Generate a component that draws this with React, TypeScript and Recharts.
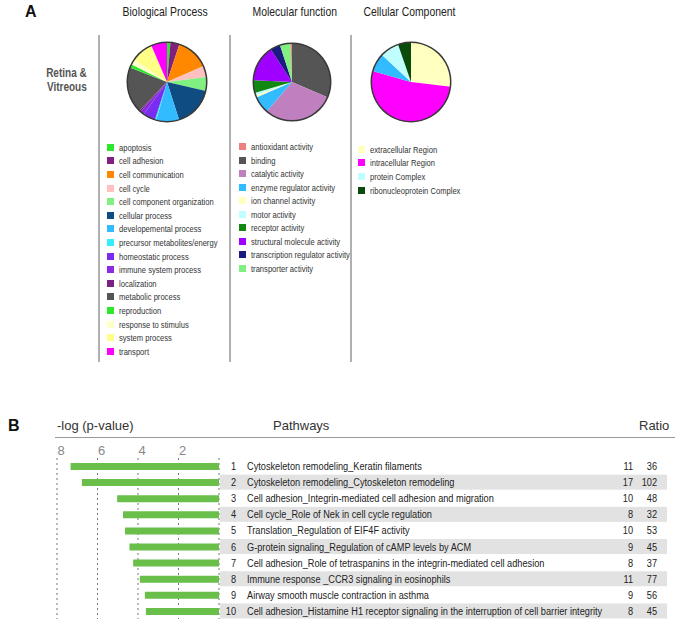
import React from 'react';
import { PieChart, Pie, Cell, BarChart, Bar, XAxis, YAxis, CartesianGrid } from 'recharts';

const SANS = '"Liberation Sans", Arial, sans-serif';
const SQUEEZE = 0.8; // Arial Narrow look-alike

// --- Panel A: GO categories (slice sizes, pie order = legend order)
const bioNames = [
  'apoptosis', 'cell adhesion', 'cell communication', 'cell cycle', 'cell component organization',
  'cellular process', 'developemental process', 'precursor metabolites/energy', 'homeostatic process',
  'immune system process', 'localization', 'metabolic process', 'reproduction', 'response to stimulus',
  'system process', 'transport',
];
const bioValues = [5, 13, 48, 16, 20, 59, 33, 2, 18, 6, 2, 67, 5, 8, 32, 23];
const bioColors = [
  '#2ee82e', '#80207f', '#ff8800', '#ffc0c0', '#80f080', '#0f4c81', '#33bbff', '#33eeff', '#7a2df0',
  '#8a2be2', '#7a2080', '#555555', '#2ee82e', '#ffffc8', '#ffff88', '#ff00ff',
];

// molecular function: legend order
const molLegend = [
  'antioxidant activity', 'binding', 'catalytic activity', 'enzyme regulator activity', 'ion channel activity',
  'motor activity', 'receptor activity', 'structural molecule activity', 'transcription regulator activity',
  'transporter activity',
];
const molLegendColors = [
  '#f08080', '#555555', '#c080c0', '#33bbff', '#ffffc0', '#c0ffff', '#118811', '#a000ff', '#1a1a80', '#80f080',
];
// pie order (clockwise from top)
const molNames = [
  'binding', 'catalytic activity', 'enzyme regulator activity', 'ion channel activity', 'motor activity',
  'receptor activity', 'structural molecule activity', 'transcription regulator activity',
  'transporter activity', 'antioxidant activity',
];
const molValues = [113, 107, 26, 3, 4, 19, 54, 15, 16, 2];

const cellLegend = ['extracellular Region', 'intracellular Region', 'protein Complex', 'ribonucleoprotein Complex'];
const cellLegendColors = ['#ffffc0', '#ff00ff', '#c0ffff', '#0a4a0a'];
const cellNames = ['extracellular Region', 'intracellular Region', 'other', 'protein Complex', 'ribonucleoprotein Complex'];
const cellValues = [97, 189, 27, 28, 19];
const cellColors = ['#ffffc0', '#ff00ff', '#33bbff', '#c0ffff', '#0a4a0a'];

// --- Panel B: pathways
const pathwayNames = [
  'Cytoskeleton remodeling_Keratin filaments',
  'Cytoskeleton remodeling_Cytoskeleton remodeling',
  'Cell adhesion_Integrin-mediated cell adhesion and migration',
  'Cell cycle_Role of Nek in cell cycle regulation',
  'Translation_Regulation of EIF4F activity',
  'G-protein signaling_Regulation of cAMP levels by ACM',
  'Cell adhesion_Role of tetraspanins in the integrin-mediated cell adhesion',
  'Immune response _CCR3 signaling in eosinophils',
  'Airway smooth muscle contraction in asthma',
  'Cell adhesion_Histamine H1 receptor signaling in the interruption of cell barrier integrity',
];
const logP = [7.33, 6.77, 5.03, 4.74, 4.64, 4.42, 4.24, 3.91, 3.66, 3.61];
const ratioHits = [11, 17, 10, 8, 10, 9, 8, 11, 9, 8];
const ratioTotal = [36, 102, 48, 32, 53, 45, 37, 77, 56, 45];
const pTicks = [0, 2, 4, 6, 8];

const bioData = bioNames.map((name, i) => ({ name, value: bioValues[i] }));
const molData = molNames.map((name, i) => ({ name, value: molValues[i] }));
const cellData = cellNames.map((name, i) => ({ name, value: cellValues[i] }));
const ring = [{ name: 'ring', value: 1 }];
const molColorOf = (n: string) => molLegendColors[molLegend.indexOf(n)];

const pathwayData = pathwayNames.map((name, i) => ({
  id: i + 1,
  name,
  p: logP[i],
  hits: ratioHits[i],
  total: ratioTotal[i],
}));

function NarrowText({ x, y, anchor = 'start', children }: { x: number; y: number; anchor?: string; children: React.ReactNode }) {
  return (
    <text
      transform={`translate(${x},${y}) scale(${SQUEEZE},1)`}
      dy={4}
      textAnchor={anchor}
      fontFamily={SANS}
      fontSize={11.5}
      fill="#222"
    >
      {children}
    </text>
  );
}

function PathwayTick(props: any) {
  const { y, payload } = props;
  const row = pathwayData[payload.value - 1];
  if (!row) return null;
  const shaded = row.id % 2 === 0;
  return (
    <g>
      {shaded && <rect x={220} y={y - 7.5} width={447} height={15} fill="#e2e2e2" />}
      <NarrowText x={236} y={y} anchor="end">{row.id}</NarrowText>
      <NarrowText x={247} y={y}>{row.name}</NarrowText>
      <NarrowText x={633} y={y} anchor="end">{row.hits}</NarrowText>
      <NarrowText x={657} y={y} anchor="end">{row.total}</NarrowText>
    </g>
  );
}

const squeezed = (origin: string): React.CSSProperties => ({
  display: 'inline-block',
  transform: `scaleX(${SQUEEZE})`,
  transformOrigin: origin,
  whiteSpace: 'nowrap',
});

function LegendList({ names, colors, x, y, step }: { names: string[]; colors: string[]; x: number; y: number; step: number }) {
  return (
    <>
      {names.map((n, i) => (
        <div key={n} style={{ position: 'absolute', left: x, top: y + i * step - 6, height: 12, display: 'flex', alignItems: 'center' }}>
          <div style={{ width: 7, height: 7, background: colors[i], marginRight: 5 }} />
          <span style={{ ...squeezed('left center'), fontFamily: SANS, fontSize: 9.5, color: '#333' }}>{n}</span>
        </div>
      ))}
    </>
  );
}

const abs = (left: number, top: number, extra: React.CSSProperties = {}): React.CSSProperties => ({
  position: 'absolute', left, top, whiteSpace: 'nowrap', ...extra,
});

function Title({ cx, children }: { cx: number; children: React.ReactNode }) {
  return (
    <div style={abs(cx - 70, 4, { width: 140, textAlign: 'center', fontFamily: SANS, fontSize: 13, color: '#222' })}>
      <span style={squeezed('center')}>{children}</span>
    </div>
  );
}

export default function App() {
  return (
    <div style={{ position: 'absolute', left: 0, top: 0, width: 683, height: 627, background: '#fff', overflow: 'hidden' }}>
      {/* Panel A headings */}
      <div style={abs(25, 3, { fontFamily: SANS, fontWeight: 'bold', fontSize: 16, color: '#111' })}>A</div>
      <Title cx={165}>Biological Process</Title>
      <Title cx={295}>Molecular function</Title>
      <Title cx={409}>Cellular Component</Title>
      <div style={abs(7, 66, { width: 80, textAlign: 'right', fontFamily: SANS, fontWeight: 'bold', fontSize: 12.5, color: '#555', lineHeight: '14px' })}>
        <span style={squeezed('right center')}>Retina &amp;</span>
        <br />
        <span style={squeezed('right center')}>Vitreous</span>
      </div>

      {/* column rules */}
      {[98, 229, 350].map((x) => (
        <div key={x} style={abs(x, 35, { width: 2, height: 327, background: '#b0b0b0' })} />
      ))}

      <div style={abs(0, 0)}>
        <PieChart width={683} height={130} margin={{ top: 0, right: 0, bottom: 0, left: 0 }}>
          <Pie data={bioData} dataKey="value" nameKey="name" cx={167} cy={82} outerRadius={40} startAngle={90} endAngle={-270} stroke="none" isAnimationActive={false}>
            {bioData.map((d, i) => <Cell key={d.name} fill={bioColors[i]} />)}
          </Pie>
          <Pie data={ring} dataKey="value" cx={167} cy={82} innerRadius={39} outerRadius={40.5} fill="#3a3a3a" stroke="none" isAnimationActive={false} />
          <Pie data={molData} dataKey="value" nameKey="name" cx={292} cy={82} outerRadius={39} startAngle={90} endAngle={-270} stroke="none" isAnimationActive={false}>
            {molData.map((d) => <Cell key={d.name} fill={molColorOf(d.name)} />)}
          </Pie>
          <Pie data={ring} dataKey="value" cx={292} cy={82} innerRadius={38} outerRadius={39.5} fill="#3a3a3a" stroke="none" isAnimationActive={false} />
          <Pie data={cellData} dataKey="value" nameKey="name" cx={411} cy={82} outerRadius={40} startAngle={90} endAngle={-270} stroke="none" isAnimationActive={false}>
            {cellData.map((d, i) => <Cell key={d.name} fill={cellColors[i]} />)}
          </Pie>
          <Pie data={ring} dataKey="value" cx={411} cy={82} innerRadius={39} outerRadius={40.5} fill="#3a3a3a" stroke="none" isAnimationActive={false} />
        </PieChart>
      </div>

      <LegendList names={bioNames} colors={bioColors} x={107} y={147.3} step={13.6} />
      <LegendList names={molLegend} colors={molLegendColors} x={239} y={146.7} step={13.5} />
      <LegendList names={cellLegend} colors={cellLegendColors} x={358} y={149} step={13.7} />

      {/* Panel B headings */}
      <div style={abs(8, 417, { fontFamily: SANS, fontWeight: 'bold', fontSize: 16, color: '#111' })}>B</div>
      <div style={abs(57, 418, { fontFamily: SANS, fontSize: 13, color: '#333' })}>-log (p-value)</div>
      <div style={abs(273, 418, { fontFamily: SANS, fontSize: 13, color: '#333' })}>Pathways</div>
      <div style={abs(639, 418, { fontFamily: SANS, fontSize: 13, color: '#333' })}>Ratio</div>
      <div style={abs(55, 437, { width: 620, height: 1, background: '#999' })} />

      <div style={abs(0, 430)}>
        <BarChart
          width={683}
          height={191}
          data={pathwayData}
          layout="vertical"
          margin={{ top: 0, right: 8, bottom: 2, left: 57 }}
        >
          <CartesianGrid horizontal={false} vertical strokeDasharray="2 3" stroke="#777" />
          <XAxis
            type="number"
            domain={[0, 8]}
            ticks={pTicks}
            reversed
            orientation="top"
            height={28}
            axisLine={false}
            tickLine={false}
            tickSize={0}
            tickMargin={3}
            tickFormatter={(v: number) => (v === 0 ? '' : String(v))}
            tick={{ fill: '#888', fontSize: 13, fontFamily: SANS, dx: 4 }}
          />
          <YAxis
            type="category"
            dataKey="id"
            orientation="right"
            width={456}
            axisLine={false}
            tickLine={false}
            interval={0}
            tick={<PathwayTick />}
          />
          <Bar dataKey="p" fill="#6abf4b" barSize={7} isAnimationActive={false} />
        </BarChart>
      </div>
    </div>
  );
}
